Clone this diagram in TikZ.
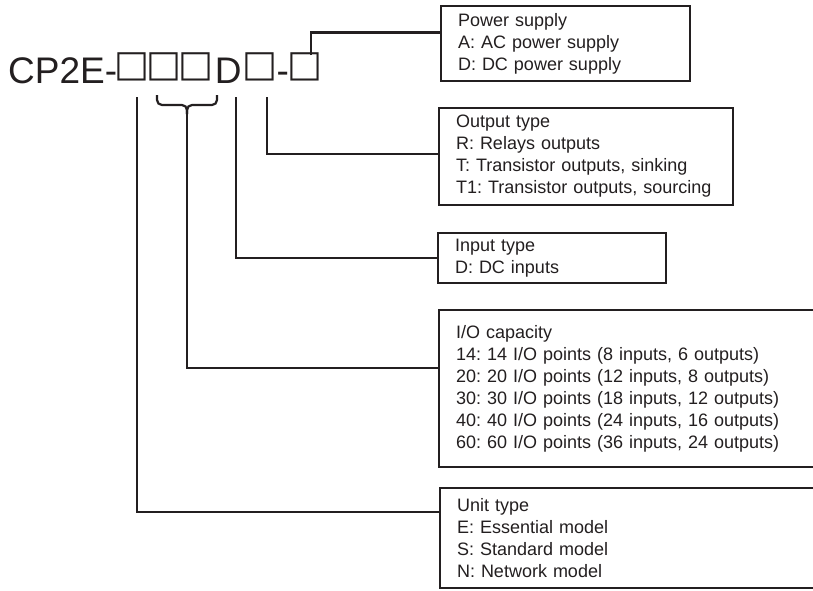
\documentclass[tikz,border=0pt]{standalone}
\usepackage{fontspec}
\setmainfont{Liberation Sans}
\newfontfamily\sqfont{DejaVu Sans}
\definecolor{ink}{HTML}{231F20}
\newcommand\sqg{\makebox[32pt]{\raisebox{7pt}{\sqfont\fontsize{37}{37}\selectfont □}}}
\begin{document}
\begin{tikzpicture}[x=1pt,y=-1pt,
  conn/.style={draw=ink, line width=2.2pt},
  infobox/.style={draw=ink, line width=2.5pt, anchor=north west, outer sep=0pt,
    align=left, inner xsep=17pt, inner ysep=0pt,
    font=\frenchspacing\fontsize{18}{22}\selectfont, text=ink}]
\clip (0,0) rectangle (813,590);
\fill[white] (0,0) rectangle (813,590);
\node[anchor=base west, inner sep=0pt, font=\fontsize{37}{40}\selectfont, text=ink] (code) at (8,83)
  {CP2E-\kern-1pt\sqg\sqg\sqg\makebox[32pt]{D}\sqg\makebox[13pt]{-}\sqg};

\node[infobox, text width=215pt, minimum height=75pt] (pwr) at (441,6)
  {Power supply\\A: AC power supply\\D: DC power supply};
\node[infobox, text width=260pt, minimum height=97pt] (out) at (439,108)
  {Output type\\R: Relays outputs\\T: Transistor outputs, sinking\\T1: Transistor outputs, sourcing};
\node[infobox, text width=194pt, minimum height=50pt] (inp) at (438,233)
  {Input type\\D: DC inputs};
\node[infobox, text width=357pt, minimum height=157pt] (io) at (439,310)
  {I/O capacity\\14: 14 I/O points (8 inputs, 6 outputs)\\20: 20 I/O points (12 inputs, 8 outputs)\\30: 30 I/O points (18 inputs, 12 outputs)\\40: 40 I/O points (24 inputs, 16 outputs)\\60: 60 I/O points (36 inputs, 24 outputs)};
\node[infobox, text width=356pt, minimum height=100pt] (unit) at (440,488)
  {Unit type\\E: Essential model\\S: Standard model\\N: Network model};

\coordinate (tU) at (137,97);
\coordinate (tIO) at (187,114);
\coordinate (tIn) at (236,97);
\coordinate (tOut) at (267,97);
\coordinate (tP) at (311,55);
\coordinate (bl) at (157,95);
\coordinate (br) at (217,95);
\coordinate (bm) at (187,105);

\draw[conn] (tP) |- ([yshift=-26.5pt]pwr.north west);
\draw[conn] (tOut) |- ([yshift=-46pt]out.north west);
\draw[conn] (tIn) |- ([yshift=-25pt]inp.north west);
\draw[conn] (tIO) |- ([yshift=-58pt]io.north west);
\draw[conn] (tU) |- ([yshift=-24pt]unit.north west);
\draw[conn, rounded corners=5pt] (bl) |- (bm) -- (tIO);
\draw[conn, rounded corners=5pt] (br) |- (bm) -- (tIO);
\end{tikzpicture}
\end{document}
